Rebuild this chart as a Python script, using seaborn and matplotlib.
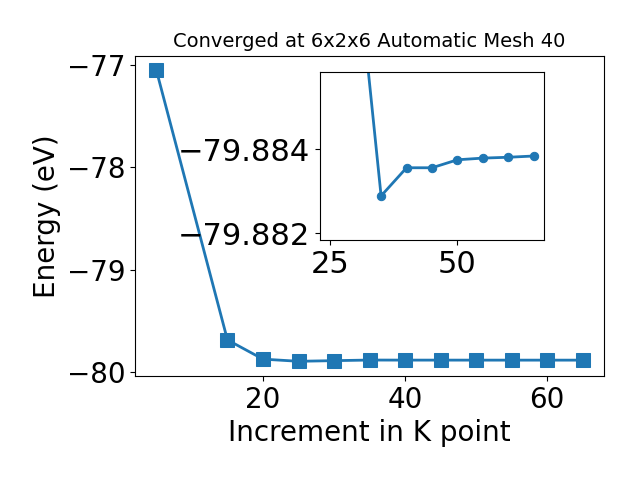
import pandas as pd
import matplotlib
matplotlib.use("Agg")
import matplotlib.pyplot as plt
import seaborn as sns

# K point increments and total energies (eV)
kpoints = [5, 15, 20, 25, 30, 35, 40, 45, 50, 55, 60, 65]
energy = [-77.05, -79.686, -79.874, -79.895, -79.8888, -79.88289, -79.88356,
          -79.88356, -79.88375, -79.88379, -79.88381, -79.88384]

df = pd.DataFrame({"k": kpoints, "E": energy})

fig = plt.figure(figsize=(6.4, 4.8), dpi=100)
ax = fig.add_axes([0.211, 0.217, 0.733, 0.667])
sns.lineplot(data=df, x="k", y="E", ax=ax, color="tab:blue", linewidth=2,
             marker="s", markersize=10, markeredgecolor="tab:blue")
ax.set_xlabel("Increment in K point", fontsize=20)
ax.set_ylabel("Energy (eV)", fontsize=20)
ax.set_title("Converged at 6x2x6 Automatic Mesh 40", fontsize=14)
ax.set_yticks([-80, -79, -78, -77])
ax.set_xticks([20, 40, 60])
ax.tick_params(labelsize=20)

# zoomed inset of the converged tail
ins = fig.add_axes([0.5, 0.5, 0.35, 0.35])
sns.lineplot(data=df, x="k", y="E", ax=ins, color="tab:blue", linewidth=2,
             marker="o", markersize=6, markeredgecolor="tab:blue")
ins.set_xlim(23, 67)
ins.set_ylim(-79.88184, -79.88584)
ins.set_xticks([25, 50])
ins.set_yticks([-79.884, -79.882])
ins.ticklabel_format(axis="y", useOffset=False)
ins.set_xlabel("")
ins.set_ylabel("")
ins.tick_params(labelsize=22)

fig.savefig("out.png", dpi=100)
